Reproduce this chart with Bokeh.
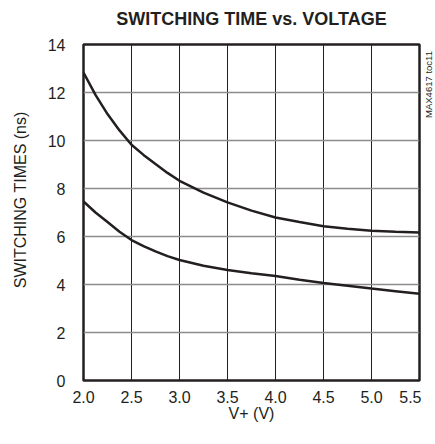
import math
from bokeh.plotting import figure
from bokeh.models import Range1d, FixedTicker, Label
from bokeh.layouts import row, column
from bokeh.embed import file_html
from bokeh.resources import INLINE

# Data
voltage = [2.0, 2.125, 2.25, 2.375, 2.5, 2.625, 2.75, 2.875, 3.0, 3.25, 3.5, 3.75,
           4.0, 4.25, 4.5, 4.75, 5.0, 5.25, 5.5]
upper_ns = [12.83, 11.90, 11.10, 10.42, 9.82, 9.40, 9.02, 8.65, 8.32, 7.83, 7.42, 7.08,
            6.79, 6.60, 6.43, 6.32, 6.24, 6.20, 6.17]
lower_ns = [7.46, 7.00, 6.60, 6.20, 5.85, 5.60, 5.38, 5.18, 5.02, 4.78, 4.60, 4.47,
            4.35, 4.20, 4.06, 3.95, 3.83, 3.72, 3.61]
x_ticks = [2.0, 2.5, 3.0, 3.5, 4.0, 4.5, 5.0, 5.5]
y_ticks = [0, 2, 4, 6, 8, 10, 12, 14]

FONT = "Liberation Sans"
DARK = "#231f20"


def strip(width, height):
    f = figure(width=width, height=height, output_backend="svg", toolbar_location=None,
               x_range=Range1d(0, width), y_range=Range1d(0, height),
               x_axis_type=None, y_axis_type=None, min_border=0,
               min_border_left=0, min_border_right=0, min_border_top=0, min_border_bottom=0)
    f.outline_line_color = None
    f.grid.visible = False
    return f


# title strip
title_fig = strip(435, 36)
title_fig.add_layout(Label(x=251, y=18, text="SWITCHING TIME vs. VOLTAGE",
                           text_align="center", text_baseline="middle", text_font=FONT,
                           text_font_size="18px", text_font_style="bold", text_color=DARK))

# left strip with the y-axis title
left_fig = strip(36, 408)
left_fig.add_layout(Label(x=20, y=112, text="SWITCHING TIMES (ns)", angle=math.pi / 2,
                          text_align="left", text_baseline="middle", text_font=FONT,
                          text_font_size="16px", text_color=DARK))

# main chart
p = figure(width=385, height=408, output_backend="svg", toolbar_location=None,
           x_range=Range1d(2.0, 5.5), y_range=Range1d(0, 14),
           min_border_left=47, min_border_right=2, min_border_top=8, min_border_bottom=64)

p.outline_line_color = DARK
p.outline_line_width = 2.5
p.outline_line_alpha = 1.0

p.xaxis.ticker = FixedTicker(ticks=x_ticks)
p.yaxis.ticker = FixedTicker(ticks=y_ticks)
p.xaxis.major_label_overrides = {t: f"{t:.1f}" for t in x_ticks}

for ax in (p.xaxis, p.yaxis):
    ax.axis_line_color = None
    ax.major_tick_line_color = None
    ax.minor_tick_line_color = None
    ax.major_tick_out = 0
    ax.major_tick_in = 0
    ax.major_label_text_font = FONT
    ax.major_label_text_font_size = "16px"
    ax.major_label_text_color = DARK

p.xaxis.major_label_standoff = 10
p.yaxis.major_label_standoff = 18

p.xaxis.axis_label = "V+ (V)"
p.xaxis.axis_label_text_font = FONT
p.xaxis.axis_label_text_font_size = "16px"
p.xaxis.axis_label_text_font_style = "normal"
p.xaxis.axis_label_text_color = DARK
p.xaxis.axis_label_standoff = -1

p.xgrid.ticker = FixedTicker(ticks=x_ticks)
p.ygrid.ticker = FixedTicker(ticks=y_ticks)
p.xgrid.grid_line_color = DARK
p.xgrid.grid_line_width = 1
p.ygrid.grid_line_color = "#8c8c8c"
p.ygrid.grid_line_width = 1.5

p.line(voltage, upper_ns, line_color=DARK, line_width=2.5)
p.line(voltage, lower_ns, line_color=DARK, line_width=2.5)

# right strip with the vertical part-number tag
tag_fig = strip(14, 408)
tag_fig.add_layout(Label(x=7, y=400, text="MAX4617 toc11", angle=math.pi / 2,
                         text_align="right", text_baseline="middle", text_font=FONT,
                         text_font_size="9.5px", text_color=DARK))

layout = column(title_fig, row(left_fig, p, tag_fig, spacing=0), spacing=0)

open("out.html", "w").write(file_html(layout, INLINE))
